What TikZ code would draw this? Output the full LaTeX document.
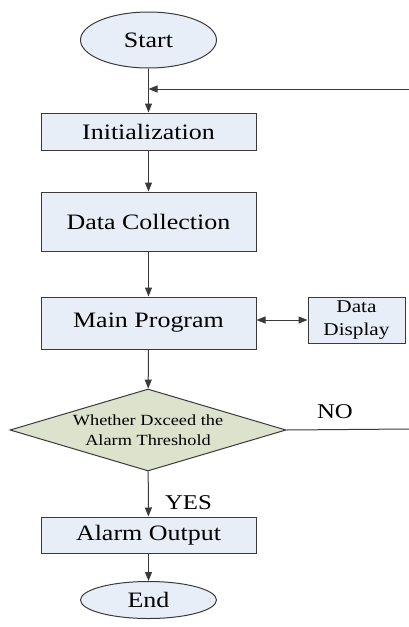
\documentclass[tikz,border=0pt]{standalone}
\usepackage{fontspec}
\setmainfont{Liberation Serif}
\usetikzlibrary{shapes.geometric,arrows.meta}
\definecolor{boxfill}{HTML}{E8EEF8}
\definecolor{diafill}{HTML}{DCE2CC}
\definecolor{edge}{HTML}{3A3A3A}
\newcommand\sx[1]{\scalebox{1.18}[1]{#1}}
\begin{document}
\begin{tikzpicture}[x=1pt,y=-1pt,
  base/.style={draw=edge,line width=1pt,inner sep=0pt,font=\fontsize{22}{24}\selectfont},
  procbox/.style={base,rectangle,fill=boxfill,minimum width=215pt},
  term/.style={base,ellipse,fill=boxfill,minimum width=136pt},
  decide/.style={base,diamond,fill=diafill,minimum width=276pt,minimum height=82pt,aspect=3.37},
  arr/.style={draw=edge,line width=1pt,-{Triangle[length=9pt,width=7pt]}},
  conn/.style={draw=edge,line width=1pt},
  lbl/.style={font=\fontsize{21}{24}\selectfont,inner sep=0pt}]
\useasboundingbox (0,0) rectangle (409,627);
\node[term,minimum height=56pt] (start) at (148.5,40) {\sx{Start}};
\coordinate (junc) at (148.5,89);
\coordinate (loopin) at (409,89);
\node[procbox,minimum height=37pt] (init) at (148.5,131.5) {\sx{Initialization}};
\node[procbox,minimum height=59pt] (coll) at (148.5,221.5) {\sx{Data Collection}};
\node[procbox,minimum height=52pt] (main) at (148.5,323) {\sx{Main Program}};
\node[base,rectangle,fill=boxfill,minimum width=97pt,minimum height=46pt,align=center,font=\fontsize{18}{23}\selectfont] (disp) at (356.5,320) {\sx{Data}\\\sx{Display}};
\node[decide,align=center,font=\fontsize{15.5}{20}\selectfont] (dec) at (148,430) {\sx{Whether Dxceed the}\\\sx{Alarm Threshold}};
\coordinate (noend) at (409,429);
\node[procbox,minimum height=36pt] (alarm) at (148.5,535) {\sx{Alarm Output}};
\node[term,minimum height=37pt] (end) at (148.5,600) {\sx{End}};
\draw[conn] (start) -- (junc);
\draw[arr] (loopin) -- (junc);
\draw[arr] (junc) -- (init);
\draw[arr] (init) -- (coll);
\draw[arr] (coll) -- (main);
\draw[draw=edge,line width=1pt,{Triangle[length=9pt,width=7pt]}-{Triangle[length=9pt,width=7pt]}] (main.east |- disp.west) -- (disp.west);
\draw[arr] (main) -- (dec);
\draw[conn] (dec.east) -- (noend);
\node[lbl] (nolbl) at (335,412) {\sx{NO}};
\draw[arr] (dec) -- (alarm);
\node[lbl] (yeslbl) at (188.5,503) {\sx{YES}};
\draw[arr] (alarm) -- (end);
\end{tikzpicture}
\end{document}
